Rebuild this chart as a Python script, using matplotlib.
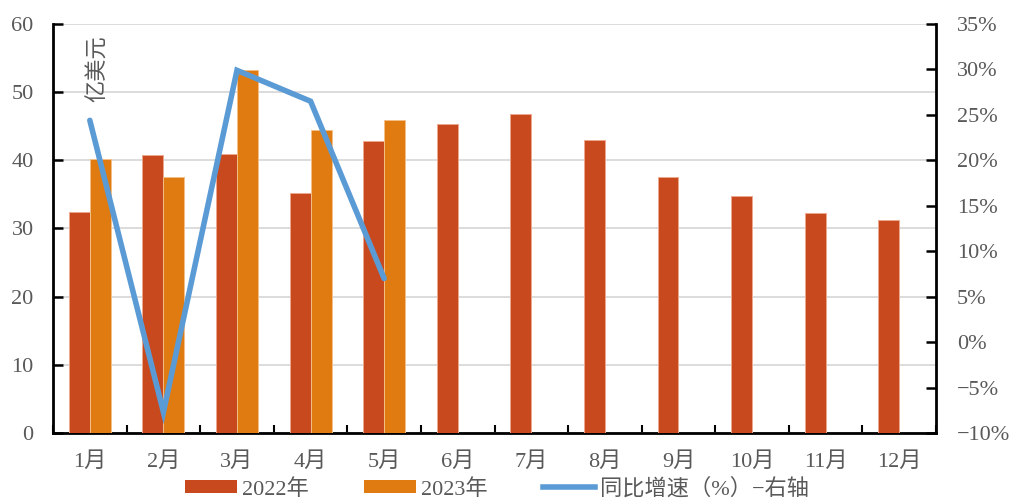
import numpy as np
import matplotlib
matplotlib.use("Agg")
import matplotlib.pyplot as plt
from matplotlib.patches import Patch
from matplotlib.lines import Line2D

plt.rcParams['font.family'] = ['Liberation Serif', 'Noto Sans CJK SC']
plt.rcParams['axes.unicode_minus'] = True

months = ['1月', '2月', '3月', '4月', '5月', '6月', '7月', '8月', '9月', '10月', '11月', '12月']
exports_2022 = [32.4, 40.8, 41.0, 35.2, 42.9, 45.3, 46.8, 43.0, 37.5, 34.8, 32.2, 31.2]
exports_2023 = [40.2, 37.6, 53.3, 44.5, 45.9]
yoy_growth = [24.4, -7.7, 29.9, 26.5, 7.0]

left_ticks = [0, 10, 20, 30, 40, 50, 60]
right_ticks = [-10, -5, 0, 5, 10, 15, 20, 25, 30, 35]

c2022 = '#C9491F'
c2023 = '#DF7B10'
cline = '#5B9BD5'
txt = '#595959'
fs = 16

fig = plt.figure(figsize=(10.14, 5.03), dpi=100)
ax = fig.add_axes([0.0523, 0.1392, 0.8708, 0.8131])

x = np.arange(len(months))
w = 0.285
ax.bar(x[:len(exports_2022)] - w / 2, exports_2022, w, color=c2022,
       edgecolor='#EDA88C', linewidth=0.7, zorder=3)
ax.bar(x[:len(exports_2023)] + w / 2, exports_2023, w, color=c2023,
       edgecolor='#F3BE88', linewidth=0.7, zorder=3)

ax.set_xlim(-0.5, len(months) - 0.5)
ax.set_ylim(0, 60)
ax.set_yticks(left_ticks)
ax.yaxis.grid(True, color='#D9D9D9', linewidth=1.3, zorder=0)
ax.set_axisbelow(True)
ax.set_xticks(x)
ax.set_xticklabels(months)
ax.set_xticks(np.arange(len(months) + 1) - 0.5, minor=True)
ax.tick_params(axis='x', which='major', length=0, pad=14, labelsize=fs, labelcolor=txt)
ax.tick_params(axis='x', which='minor', direction='in', length=6, width=1.5, color='black')
ax.tick_params(axis='y', direction='in', length=7, width=1.8, color='black',
               labelsize=fs, labelcolor=txt, pad=14)
for s in ['left', 'bottom']:
    ax.spines[s].set_linewidth(2)
    ax.spines[s].set_color('black')
ax.spines['top'].set_visible(False)
ax.spines['right'].set_visible(False)

ax2 = ax.twinx()
ax2.plot(x[:len(yoy_growth)], yoy_growth, color=cline, linewidth=4.0,
         solid_capstyle='round', solid_joinstyle='miter', zorder=4)
ax2.set_ylim(-10, 35)
ax2.set_yticks(right_ticks)
ax2.set_yticklabels([f'{v}%'.replace('-', '\u2212') for v in right_ticks])
ax2.tick_params(axis='y', direction='in', length=7, width=1.8, color='black',
                labelsize=fs, labelcolor=txt, pad=15)
ax2.spines['right'].set_linewidth(2)
ax2.spines['right'].set_color('black')
for s in ['top', 'left', 'bottom']:
    ax2.spines[s].set_visible(False)

ax.text(0.11, 58.3, '亿美元', rotation=90, ha='center', va='top',
        fontsize=fs, color=txt, zorder=5)

handles = [Patch(facecolor=c2022, edgecolor='none'),
           Patch(facecolor=c2023, edgecolor='none'),
           Line2D([0], [0], color=cline, linewidth=4.0)]
labels = ['2022年', '2023年', '同比增速（%）−右轴']
fig.legend(handles, labels, loc='lower center', bbox_to_anchor=(0.49, -0.033),
           ncol=3, frameon=False, fontsize=fs, labelcolor=txt,
           handlelength=2.35, handleheight=0.55, handletextpad=0.2,
           columnspacing=2.5)

fig.savefig('out.png', dpi=100)
